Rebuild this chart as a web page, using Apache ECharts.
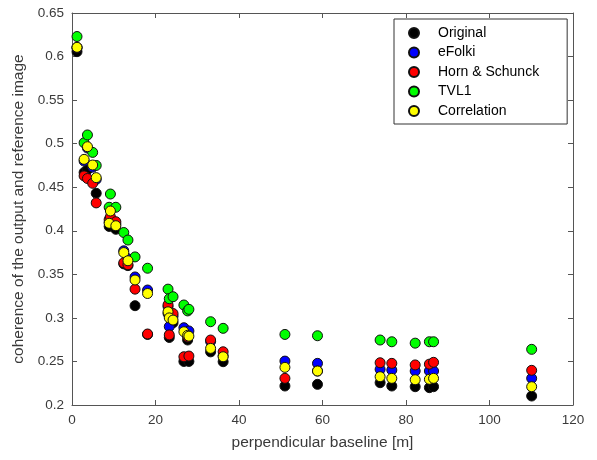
<!DOCTYPE html>
<html>
<head>
<meta charset="utf-8">
<title>Coherence vs perpendicular baseline</title>
<script src="https://cdn.jsdelivr.net/npm/echarts@6/dist/echarts.min.js"></script>
<style>
  html, body { margin: 0; padding: 0; background: #fff; }
  #chart { width: 597px; height: 460px; }
</style>
</head>
<body>
<div id="chart"></div>
<script>
// Perpendicular baseline of each interferometric pair [m]
const baselines = [1.2, 2.9, 3.7, 4.95, 5.8, 8.9, 9.2, 10.5, 12.4, 13.4, 15.1, 18.1,
  23.0, 23.3, 24.2, 26.8, 27.7, 28.0, 33.2, 36.2, 51.0, 58.8, 73.8, 76.6, 82.2, 85.6, 86.6, 110.1];

// Mean coherence between output and reference image, one value per baseline
const original = [0.6056, 0.467, 0.470, 0.458, 0.443, 0.405, 0.412, 0.4017, 0.362, 0.360, 0.314, 0.281,
  0.305, 0.2775, 0.2944, 0.250, 0.2746, 0.250, 0.261, 0.2497, 0.2218, 0.2237, 0.2256, 0.2218, 0.221, 0.2199, 0.221, 0.2103];
const eFolki = [0.610, 0.480, 0.495, 0.473, 0.459, 0.410, 0.425, 0.408, 0.377, 0.368, 0.347, 0.332,
  0.313, 0.290, 0.302, 0.2887, 0.282, 0.285, 0.273, 0.2565, 0.2504, 0.2478, 0.2409, 0.2401, 0.239, 0.239, 0.239, 0.2306];
const hornSchunck = [0.6105, 0.463, 0.460, 0.4545, 0.432, 0.413, 0.416, 0.4104, 0.3633, 0.361, 0.333, 0.2815,
  0.315, 0.2805, 0.305, 0.2554, 0.278, 0.2562, 0.2746, 0.2611, 0.2306, 0.239, 0.2485, 0.2478, 0.246, 0.2469, 0.249, 0.2398];
const tvl1 = [0.623, 0.501, 0.510, 0.490, 0.475, 0.427, 0.4422, 0.427, 0.398, 0.3894, 0.370, 0.357,
  0.333, 0.322, 0.3243, 0.3148, 0.308, 0.3098, 0.2956, 0.288, 0.281, 0.2795, 0.2746, 0.2726, 0.271, 0.2726, 0.2726, 0.2639];
const correlation = [0.6106, 0.482, 0.4965, 0.4755, 0.461, 0.4086, 0.4227, 0.4058, 0.375, 0.3656, 0.3435, 0.328,
  0.307, 0.300, 0.2975, 0.2841, 0.280, 0.279, 0.265, 0.2554, 0.2432, 0.239, 0.2325, 0.2306, 0.229, 0.2295, 0.2306, 0.221];

const seriesNames = ['Original', 'eFolki', 'Horn & Schunck', 'TVL1', 'Correlation'];
const seriesValues = [original, eFolki, hornSchunck, tvl1, correlation];
const seriesColors = ['#000000', '#0000ff', '#ff0000', '#00ff00', '#ffff00'];

const xTicks = [0, 20, 40, 60, 80, 100, 120];
const yTicks = [0.2, 0.25, 0.3, 0.35, 0.4, 0.45, 0.5, 0.55, 0.6, 0.65];

const axisColor = '#555555';
const labelColor = '#3a3a3a';
const fontFamily = 'Liberation Sans, Arial, Helvetica, sans-serif';

const chart = echarts.init(document.getElementById('chart'), null, { renderer: 'canvas' });

const series = seriesNames.map((name, i) => ({
  name: name,
  type: 'scatter',
  xAxisIndex: 0,
  yAxisIndex: 0,
  symbol: 'circle',
  symbolSize: 10,
  itemStyle: { color: seriesColors[i], borderColor: '#111111', borderWidth: 1, opacity: 1 },
  emphasis: { disabled: true },
  data: baselines.map((b, k) => [b, seriesValues[i][k]])
}));

const frameAxis = {
  axisLine: { show: true, onZero: false, lineStyle: { color: axisColor, width: 1 } },
  axisTick: { show: true, inside: true, length: 5, lineStyle: { color: axisColor } },
  splitLine: { show: false }
};

chart.setOption({
  animation: false,
  backgroundColor: '#ffffff',
  grid: { left: 72, right: 24, top: 13, bottom: 55, containLabel: false },
  legend: {
    data: seriesNames,
    orient: 'vertical',
    left: 394,
    top: 19,
    padding: [7, 28, 6, 14],
    itemGap: 5.5,
    itemWidth: 10,
    itemHeight: 10,
    icon: 'circle',
    borderColor: '#333333',
    borderWidth: 1,
    backgroundColor: '#ffffff',
    textStyle: { fontFamily: fontFamily, fontSize: 14, color: '#000000', padding: [0, 0, 0, 14] },
    selectedMode: false
  },
  xAxis: [
    Object.assign({}, frameAxis, {
      type: 'value', min: xTicks[0], max: xTicks[xTicks.length - 1], interval: 20,
      position: 'bottom',
      name: 'perpendicular baseline [m]',
      nameLocation: 'middle',
      nameGap: 30,
      nameTextStyle: { fontFamily: fontFamily, fontSize: 15.5, color: labelColor },
      axisLabel: { show: true, margin: 8, fontFamily: fontFamily, fontSize: 13.5, color: labelColor }
    }),
    Object.assign({}, frameAxis, {
      type: 'value', min: xTicks[0], max: xTicks[xTicks.length - 1], interval: 20,
      position: 'top', axisLabel: { show: false }
    })
  ],
  yAxis: [
    Object.assign({}, frameAxis, {
      type: 'value', min: yTicks[0], max: yTicks[yTicks.length - 1], interval: 0.05,
      position: 'left',
      name: 'coherence of the output and reference image',
      nameLocation: 'middle',
      nameGap: 41,
      nameTextStyle: { fontFamily: fontFamily, fontSize: 15.5, color: labelColor },
      axisLabel: {
        show: true, margin: 8, fontFamily: fontFamily, fontSize: 13.5, color: labelColor,
        formatter: v => String(Math.round(v * 100) / 100)
      }
    }),
    Object.assign({}, frameAxis, {
      type: 'value', min: yTicks[0], max: yTicks[yTicks.length - 1], interval: 0.05,
      position: 'right', axisLabel: { show: false }
    })
  ],
  series: series
});
</script>
</body>
</html>
